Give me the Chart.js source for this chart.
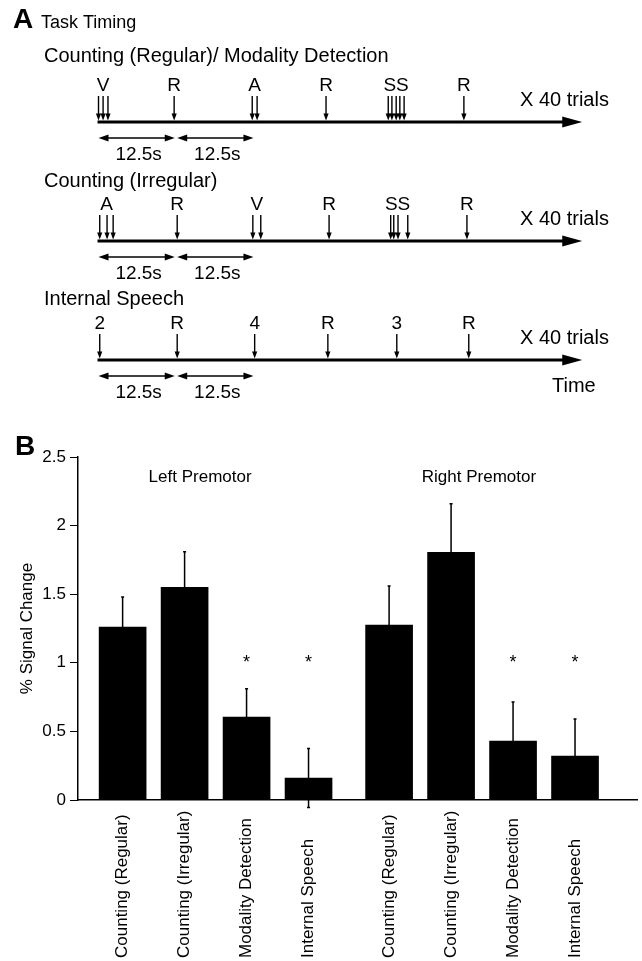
<!DOCTYPE html>
<html>
<head>
<meta charset="utf-8">
<title>Task timing and premotor signal change</title>
<script src="https://cdn.jsdelivr.net/npm/chart.js"></script>
<style>
  html, body { margin: 0; padding: 0; background: #fff; }
  canvas { display: block; }
</style>
</head>
<body>
<canvas id="timingChart" width="642" height="430"></canvas>
<canvas id="signalChart" width="642" height="531"></canvas>
<script>
// ---- Panel A: stimulus timing, times in seconds ----
const panelATitle = "Task Timing";
const rowTitles = ["Counting (Regular)/ Modality Detection", "Counting (Irregular)", "Internal Speech"];
const row1Labels = ["V", "R", "A", "R", "SS", "R"];
const row1Times = [[0, 0.75, 1.55], [12.4], [25.2, 26.0], [37.3], [47.5, 48.1, 48.8, 49.4, 50.1], [59.9]];
const row2Labels = ["A", "R", "V", "R", "SS", "R"];
const row2Times = [[0.2, 1.4, 2.4], [12.9], [25.3, 26.6], [37.8], [47.9, 48.4, 49.1, 50.7], [60.4]];
const row3Labels = ["2", "R", "4", "R", "3", "R"];
const row3Times = [[0.2], [12.9], [25.6], [37.6], [48.9], [60.7]];
const repeatLabel = "X 40 trials";
const timeLabel = "Time";
const spanStarts = [0, 12.9];
const spanLength = 12.5;
const spanLabel = "12.5s";
const timelineEnd = 79.3;

// ---- Panel B: % signal change ----
const categories = ["Counting (Regular)", "Counting (Irregular)", "Modality Detection", "Internal Speech",
                    "Counting (Regular)", "Counting (Irregular)", "Modality Detection", "Internal Speech"];
const barPositions = [0, 1, 2, 3, 4.3, 5.3, 6.3, 7.3];
const signalValues = [1.26, 1.55, 0.605, 0.16, 1.275, 1.805, 0.43, 0.32];
const signalErrors = [0.22, 0.26, 0.205, 0.215, 0.285, 0.355, 0.285, 0.27];
const starred = [false, false, true, true, false, false, true, true];
const starLevel = 1.04;
const groupTitles = ["Left Premotor", "Right Premotor"];
const groupPositions = [1.25, 5.75];
const groupLevel = 2.35;
const yAxisTitle = "% Signal Change";

const FONT = '"Liberation Sans", Arial, Helvetica, sans-serif';
Chart.defaults.font.family = FONT;
Chart.defaults.color = "#000";

const timingRows = [row1Times, row2Times, row3Times];
const timingLabels = [row1Labels, row2Labels, row3Labels];
const rowTitleGap = [66, 60, 61]; // distance title -> time line, px

function arrowHead(ctx, tipX, tipY, dx, dy, len, half) {
  const bx = tipX - dx * len, by = tipY - dy * len;
  ctx.beginPath();
  ctx.moveTo(tipX, tipY);
  ctx.lineTo(bx - dy * half, by + dx * half);
  ctx.lineTo(bx + dy * half, by - dx * half);
  ctx.closePath();
  ctx.fill();
}

const timingPlugin = {
  id: "timing",
  afterDatasetsDraw(chart) {
    const { ctx, scales: { x, y } } = chart;
    ctx.save();
    ctx.fillStyle = "#000";
    ctx.strokeStyle = "#000";

    ctx.textAlign = "left";
    ctx.textBaseline = "alphabetic";
    ctx.font = `bold 28px ${FONT}`;
    ctx.fillText("A", 13, 28);
    ctx.font = `18px ${FONT}`;
    ctx.fillText(panelATitle, 41, 28);

    timingRows.forEach((groups, r) => {
      const axisY = y.getPixelForValue(r);
      const points = chart.getDatasetMeta(r).data;

      ctx.font = `20px ${FONT}`;
      ctx.textAlign = "left";
      ctx.textBaseline = "middle";
      ctx.fillText(rowTitles[r], 44, axisY - rowTitleGap[r]);
      ctx.fillText(repeatLabel, 520, axisY - 22);
      if (r === timingRows.length - 1) ctx.fillText(timeLabel, 552, axisY + 26);

      // time line with arrow
      const x0 = x.getPixelForValue(0);
      const x1 = x.getPixelForValue(timelineEnd);
      ctx.lineWidth = 3;
      ctx.beginPath();
      ctx.moveTo(x0 - 1, axisY);
      ctx.lineTo(x1 - 15, axisY);
      ctx.stroke();
      arrowHead(ctx, x1, axisY, 1, 0, 20, 5.5);

      // stimulus / response arrows
      ctx.font = `19px ${FONT}`;
      ctx.lineWidth = 1.4;
      ctx.textAlign = "center";
      let k = 0;
      groups.forEach((times, g) => {
        let sum = 0;
        times.forEach(() => {
          const p = points[k++];
          sum += p.x;
          ctx.beginPath();
          ctx.moveTo(p.x, p.y - 26);
          ctx.lineTo(p.x, p.y - 7);
          ctx.stroke();
          arrowHead(ctx, p.x, p.y - 1.5, 0, 1, 7, 2.6);
        });
        ctx.fillText(timingLabels[r][g], sum / times.length, axisY - 36);
      });

      // 12.5 s spans
      spanStarts.forEach(s => {
        const a = x.getPixelForValue(s);
        const b = x.getPixelForValue(s + spanLength);
        const sy = axisY + 16;
        ctx.beginPath();
        ctx.moveTo(a + 6, sy);
        ctx.lineTo(b - 6, sy);
        ctx.stroke();
        arrowHead(ctx, a, sy, -1, 0, 10, 3.5);
        arrowHead(ctx, b, sy, 1, 0, 10, 3.5);
        ctx.fillText(spanLabel, (a + b) / 2 + 2, axisY + 33);
      });
    });
    ctx.restore();
  }
};

new Chart(document.getElementById("timingChart"), {
  type: "scatter",
  data: {
    datasets: timingRows.map((groups, r) => ({
      data: groups.flat().map(t => ({ x: t, y: r })),
      pointRadius: 0
    }))
  },
  options: {
    responsive: false,
    animation: false,
    events: [],
    layout: { padding: 0 },
    plugins: { legend: { display: false }, tooltip: { enabled: false } },
    scales: {
      x: { type: "linear", display: false, min: -16.15, max: 89.1 },
      y: { type: "linear", display: false, reverse: true, min: -1.025, max: 2.588 }
    }
  },
  plugins: [timingPlugin]
});

const signalPlugin = {
  id: "signalExtras",
  afterDatasetsDraw(chart) {
    const { ctx, scales: { x, y } } = chart;
    const bars = chart.getDatasetMeta(0).data;
    ctx.save();
    ctx.fillStyle = "#000";
    ctx.strokeStyle = "#000";

    // error bars
    ctx.lineWidth = 1.5;
    bars.forEach((bar, i) => {
      const top = y.getPixelForValue(signalValues[i] + signalErrors[i]);
      const bottom = y.getPixelForValue(signalValues[i] - signalErrors[i]);
      ctx.beginPath();
      ctx.moveTo(bar.x, bottom);
      ctx.lineTo(bar.x, top);
      ctx.moveTo(bar.x - 1.5, top);
      ctx.lineTo(bar.x + 1.5, top);
      ctx.moveTo(bar.x - 1.5, bottom);
      ctx.lineTo(bar.x + 1.5, bottom);
      ctx.stroke();
    });

    // significance stars
    ctx.font = `18px ${FONT}`;
    ctx.textAlign = "center";
    ctx.textBaseline = "alphabetic";
    bars.forEach((bar, i) => {
      if (starred[i]) ctx.fillText("*", bar.x, y.getPixelForValue(starLevel) + 11);
    });

    // group titles
    ctx.font = `17px ${FONT}`;
    ctx.textBaseline = "middle";
    groupTitles.forEach((t, i) => {
      ctx.fillText(t, x.getPixelForValue(groupPositions[i]), y.getPixelForValue(groupLevel));
    });

    // rotated category labels, starting from the bottom edge
    ctx.textAlign = "left";
    bars.forEach((bar, i) => {
      ctx.save();
      ctx.translate(bar.x, chart.height - 3);
      ctx.rotate(-Math.PI / 2);
      ctx.fillText(categories[i], 0, 0);
      ctx.restore();
    });

    ctx.textBaseline = "alphabetic";
    ctx.font = `bold 28px ${FONT}`;
    ctx.fillText("B", 15, 25);
    ctx.restore();
  }
};

new Chart(document.getElementById("signalChart"), {
  type: "bar",
  data: {
    datasets: [{
      data: barPositions.map((pos, i) => ({ x: pos, y: signalValues[i] })),
      backgroundColor: "#000",
      borderWidth: 0,
      barThickness: 47
    }]
  },
  options: {
    responsive: false,
    animation: false,
    events: [],
    layout: { padding: { top: 27, right: 5, left: 0, bottom: 0 } },
    plugins: { legend: { display: false }, tooltip: { enabled: false } },
    scales: {
      x: {
        type: "linear",
        min: -0.72,
        max: 8.3,
        offset: false,
        grid: { display: false },
        border: { display: true, color: "#000", width: 1.5 },
        ticks: { display: false },
        afterFit: s => { s.height = 161; }
      },
      y: {
        min: 0,
        max: 2.5,
        ticks: {
          stepSize: 0.5,
          color: "#000",
          padding: 4,
          font: { size: 17 },
          callback: v => String(Math.round(v * 10) / 10)
        },
        grid: { drawOnChartArea: false, tickLength: 8, color: "#000" },
        border: { color: "#000", width: 1.5 },
        title: { display: true, text: yAxisTitle, color: "#000", font: { size: 17 }, padding: { top: 17, bottom: 0 } },
        afterFit: s => { s.width = 78; }
      }
    }
  },
  plugins: [signalPlugin]
});
</script>
</body>
</html>
